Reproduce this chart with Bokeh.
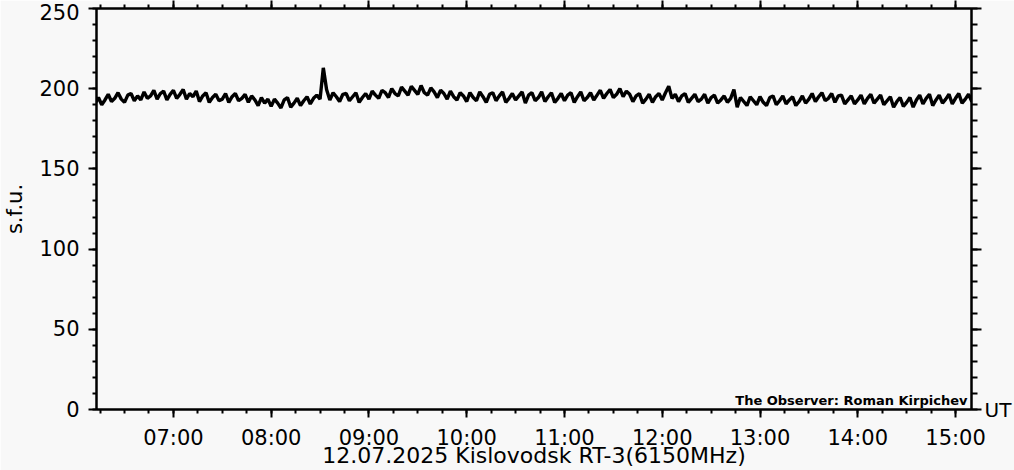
import datetime as dt
from bokeh.plotting import figure
from bokeh.models import (FixedTicker, DatetimeTickFormatter, LinearAxis, DatetimeAxis, Range1d,
                          Label, CustomLabelingPolicy)
from bokeh.embed import file_html
from bokeh.resources import INLINE

# ---------------- data ----------------
DAY = dt.datetime(2025, 7, 12)
SAMPLE_START = DAY + dt.timedelta(hours=6, minutes=12)
SAMPLE_STEP_MIN = 2

flux_06 = [191, 194.5, 190, 193, 196.5, 192, 194, 197.5, 193.5, 191.5, 196, 197,
           192.5, 195.5, 193, 198, 194, 195.5, 199, 193.5, 197, 198.5, 193, 196.5]
flux_07 = [199, 194, 196.5, 199.5, 193.5, 197, 195, 198.5, 192, 195.5,
           197.5, 191.5, 194.5, 196.5, 192.5, 193.5, 197, 191.5, 195, 197,
           192.5, 194, 196.5, 191.5, 195.5, 193, 189.5, 194.5, 191, 193.5]
flux_08 = [189, 193.5, 191, 188, 193, 194.5, 188.5, 191, 194, 189.5,
           192.5, 195, 190.5, 194, 196, 193.5, 213, 199.5, 193, 197.5,
           195, 192, 196.5, 197, 192.5, 195, 197.5, 191.5, 194.5, 197]
flux_09 = [193.5, 198.5, 196, 194, 199, 197.5, 194.5, 200, 197, 195.5,
           201, 198.5, 196, 201.5, 199, 196.5, 202, 197.5, 196, 200.5,
           198, 194.5, 199, 197, 193.5, 198.5, 195, 193, 197.5, 195.5]
flux_10 = [192, 197.5, 194.5, 192.5, 198, 195, 191.5, 196.5, 197.5, 192.5,
           195.5, 198, 191.5, 194, 197, 193, 195.5, 198, 191, 196,
           197.5, 192.5, 194.5, 198, 192, 195, 197.5, 191.5, 194, 197]
flux_11 = [192.5, 196, 197.5, 191.5, 195, 198, 192.5, 194.5, 197.5, 193,
           196, 199, 194, 197, 199.5, 194.5, 196.5, 200, 195, 198.5,
           196.5, 192, 195.5, 197, 191, 193.5, 196.5, 191.5, 195, 197]
flux_12 = [193, 197.5, 201.5, 194, 196.5, 192, 195.5, 197, 191.5, 194,
           196.5, 192, 193.5, 196.5, 191, 194.5, 196, 191, 193, 195.5,
           191.5, 194, 199.5, 188.5, 194.5, 192, 189.5, 195, 192.5, 190]
flux_13 = [195, 191.5, 189.5, 194.5, 195.5, 190, 192.5, 195.5, 190.5, 193,
           195, 189.5, 192, 195.5, 191, 193.5, 197, 192, 195, 197.5,
           192.5, 194, 197, 191.5, 195.5, 196, 190.5, 193, 195.5, 190.5]
flux_14 = [193, 196, 190.5, 194, 196.5, 191, 193.5, 196, 190, 192.5,
           195, 188.5, 192, 194.5, 189, 191.5, 194.5, 188.5, 193, 196,
           190.5, 194, 196.5, 189.5, 193, 196, 191, 193.5, 196.5, 190.5]
flux_15 = [194, 197, 191, 193.5, 196.5, 192, 195]

flux = flux_06 + flux_07 + flux_08 + flux_09 + flux_10 + flux_11 + flux_12 + flux_13 + flux_14 + flux_15
times = [SAMPLE_START + dt.timedelta(minutes=SAMPLE_STEP_MIN * i) for i in range(len(flux))]

y_major = [0, 50, 100, 150, 200, 250]
y_minor = list(range(0, 251, 10))
hour_ticks = list(range(7, 16))                       # 07:00 ... 15:00
quarter_ticks = [6.25 + 0.25 * k for k in range(36)]  # 06:15 ... 15:00

title_text = "12.07.2025 Kislovodsk RT-3(6150MHz)"
y_title = "s.f.u."
x_unit = "UT"
observer = "The Observer: Roman Kirpichev"

# ---------------- helpers ----------------
EPOCH = dt.datetime(1970, 1, 1)
def ms(d):
    return (d - EPOCH).total_seconds() * 1000.0
def at_hour(h):
    return DAY + dt.timedelta(hours=h)

x_start = DAY + dt.timedelta(hours=6, minutes=12, seconds=48)
x_end = DAY + dt.timedelta(hours=15, minutes=9, seconds=48)

FONT = "DejaVu Sans"
FS = "21px"
BG = "#f8f8f8"

p = figure(width=1014, height=470, x_axis_type="datetime",
           x_range=Range1d(ms(x_start), ms(x_end)), y_range=Range1d(0, 250),
           output_backend="svg", toolbar_location=None,
           min_border_left=96, min_border_right=41, min_border_top=8, min_border_bottom=60,
           background_fill_color=BG, border_fill_color=BG,
           outline_line_color="black", outline_line_width=2)
p.xgrid.visible = False
p.ygrid.visible = False

p.line(times, flux, line_color="black", line_width=3.4)

x_ticker = FixedTicker(ticks=[ms(at_hour(h)) for h in hour_ticks],
                       minor_ticks=[ms(at_hour(h)) for h in quarter_ticks])
y_ticker = FixedTicker(ticks=y_major, minor_ticks=y_minor)
hide_labels = CustomLabelingPolicy(code="for (let i = 0; i < indices.size; i++) { indices.set(i, false) } return indices")

def style(ax, major_out, minor_out):
    ax.axis_line_width = 2
    ax.axis_line_color = "black"
    ax.major_tick_line_width = 2
    ax.minor_tick_line_width = 2
    ax.major_tick_out = major_out
    ax.major_tick_in = 0
    ax.minor_tick_out = minor_out
    ax.minor_tick_in = 0
    ax.major_label_text_font = FONT
    ax.major_label_text_font_size = FS
    ax.major_label_text_color = "black"

# bottom axis
xa = p.xaxis[0]
xa.ticker = x_ticker
xa.formatter = DatetimeTickFormatter(hours="%H:%M", minutes="%H:%M", hourmin="%H:%M", days="%H:%M")
style(xa, 8, 4)
xa.major_label_standoff = 8
xa.axis_label = title_text
xa.axis_label_text_font = FONT
xa.axis_label_text_font_size = "22px"
xa.axis_label_text_font_style = "normal"
xa.axis_label_text_color = "black"
xa.axis_label_standoff = -10

# left axis
ya = p.yaxis[0]
ya.ticker = y_ticker
ya.major_label_overrides = {250: "250\n"}
style(ya, 8, 4)
ya.major_label_standoff = 9
ya.axis_label = y_title
ya.axis_label_text_font = FONT
ya.axis_label_text_font_size = FS
ya.axis_label_text_font_style = "normal"
ya.axis_label_text_color = "black"
ya.axis_label_standoff = 9

# right axis (ticks only, plus the unit label)
ra = LinearAxis(ticker=y_ticker, major_label_policy=hide_labels, major_label_standoff=0)
style(ra, 10, 6)
ra.major_label_text_font_size = "0px"
ra.axis_label = x_unit
ra.axis_label_orientation = "horizontal"
ra.axis_label_align = "start"
ra.axis_label_text_font = FONT
ra.axis_label_text_font_size = "20px"
ra.axis_label_text_font_style = "normal"
ra.axis_label_text_color = "black"
ra.axis_label_standoff = 3
p.add_layout(ra, "right")

# top axis (ticks only)
ta = DatetimeAxis(ticker=x_ticker, major_label_policy=hide_labels, major_label_standoff=0)
style(ta, 8, 4)
ta.major_label_text_font_size = "0px"
p.add_layout(ta, "above")

p.add_layout(Label(x=ms(x_end), y=0, x_units="data", y_units="data", x_offset=-4, y_offset=9,
                   text=observer, text_align="right", text_baseline="alphabetic",
                   text_font=FONT, text_font_size="13px", text_font_style="bold", text_color="black"))

open("out.html", "w").write(file_html(p, INLINE))
